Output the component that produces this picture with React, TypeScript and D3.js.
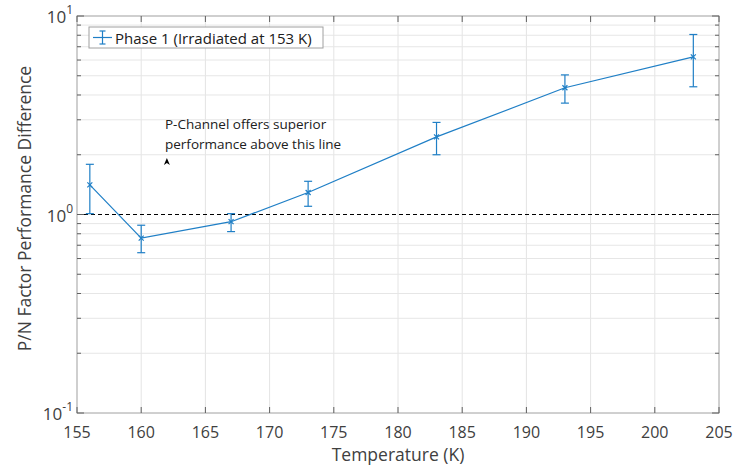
import React from "react";
import * as d3 from "d3";

// data
const temps = [156, 160, 167, 173, 183, 193, 203];
const ratio = [1.41, 0.76, 0.92, 1.29, 2.46, 4.35, 6.22];
const errLow = [1.01, 0.642, 0.82, 1.1, 2.0, 3.64, 4.4];
const errHigh = [1.79, 0.883, 1.01, 1.47, 2.91, 5.05, 8.07];

const xTicks = [155, 160, 165, 170, 175, 180, 185, 190, 195, 200, 205];
const yExps = [-1, 0, 1];
const yMinor = [0.2, 0.3, 0.4, 0.5, 0.6, 0.7, 0.8, 0.9, 2, 3, 4, 5, 6, 7, 8, 9];

const seriesName = "Phase 1 (Irradiated at 153 K)";
const noteLines = ["P-Channel offers superior", "performance above this line"];

const W = 743;
const H = 465;
const margin = { top: 16, right: 24, bottom: 52, left: 77 };
const FONT = "'Open Sans', 'Noto Sans', sans-serif";
const BLUE = "#1f7fc6";
const TXT = "#404040";

export default function App() {
  const x = d3
    .scaleLinear()
    .domain([155, 205])
    .range([margin.left, W - margin.right]);
  const y = d3
    .scaleLog()
    .domain([0.1, 10])
    .range([H - margin.bottom, margin.top]);

  const pts = temps.map((t, i) => ({ t, v: ratio[i], lo: errLow[i], hi: errHigh[i] }));
  const line = d3
    .line<{ t: number; v: number }>()
    .x(d => x(d.t))
    .y(d => y(d.v));

  const [x0, x1] = x.range();
  const [y0, y1] = y.range();
  const cap = 4;
  const mk = 2.5;

  return (
    <svg
      width={W}
      height={H}
      style={{ position: "absolute", left: 0, top: 0, background: "#fff" }}
      fontFamily={FONT}
    >
      {/* grid */}
      <g stroke="#e4e4e4" strokeWidth={1}>
        {xTicks.slice(1, -1).map(t => (
          <line key={"gx" + t} x1={x(t)} x2={x(t)} y1={y1} y2={y0} />
        ))}
        {yMinor.map(v => (
          <line key={"gm" + v} x1={x0} x2={x1} y1={y(v)} y2={y(v)} stroke="#e6e6e6" />
        ))}
      </g>

      {/* reference line at 1 */}
      <line
        x1={x0}
        x2={x1}
        y1={y(1)}
        y2={y(1)}
        stroke="#000"
        strokeWidth={1}
        strokeDasharray="4 3"
      />

      {/* axes box */}
      <rect x={x0} y={y1} width={x1 - x0} height={y0 - y1} fill="none" stroke="#a0a0a0" />
      <g stroke="#606060" strokeWidth={1}>
        {xTicks.map(t => (
          <g key={"tx" + t}>
            <line x1={x(t)} x2={x(t)} y1={y0} y2={y0 - 6} />
            <line x1={x(t)} x2={x(t)} y1={y1} y2={y1 + 6} />
          </g>
        ))}
        {yMinor.map(v => (
          <g key={"ty" + v}>
            <line x1={x0} x2={x0 + 4} y1={y(v)} y2={y(v)} />
            <line x1={x1} x2={x1 - 4} y1={y(v)} y2={y(v)} />
          </g>
        ))}
        {yExps.map(e => (
          <g key={"tye" + e}>
            <line x1={x0} x2={x0 + 7} y1={y(10 ** e)} y2={y(10 ** e)} />
            <line x1={x1} x2={x1 - 7} y1={y(10 ** e)} y2={y(10 ** e)} />
          </g>
        ))}
      </g>

      {/* tick labels */}
      <g fill={TXT} fontSize={16} textAnchor="middle">
        {xTicks.map(t => (
          <text key={"lx" + t} x={x(t)} y={y0 + 25}>
            {t}
          </text>
        ))}
      </g>
      <g fill={TXT} fontSize={17} textAnchor="end">
        {yExps.map(e => (
          <text key={"ly" + e} x={x0 - 4} y={y(10 ** e) + 7}>
            10
            <tspan fontSize={12} dy={-9}>
              {e}
            </tspan>
          </text>
        ))}
      </g>

      {/* axis titles */}
      <text x={(x0 + x1) / 2} y={H - 4} textAnchor="middle" fontSize={17.5} fill={TXT}>
        Temperature (K)
      </text>
      <text
        transform={`translate(31,${(y0 + y1) / 2 - 6}) rotate(-90)`}
        textAnchor="middle"
        fontSize={17.5}
        fill={TXT}
      >
        P/N Factor Performance Difference
      </text>

      {/* series */}
      <path d={line(pts) || ""} fill="none" stroke={BLUE} strokeWidth={1.2} />
      <g stroke={BLUE} strokeWidth={1.2}>
        {pts.map(p => (
          <g key={"e" + p.t}>
            <line x1={x(p.t)} x2={x(p.t)} y1={y(p.lo)} y2={y(p.hi)} />
            <line x1={x(p.t) - cap} x2={x(p.t) + cap} y1={y(p.lo)} y2={y(p.lo)} />
            <line x1={x(p.t) - cap} x2={x(p.t) + cap} y1={y(p.hi)} y2={y(p.hi)} />
            <path
              d={`M${x(p.t) - mk},${y(p.v) - mk}L${x(p.t) + mk},${y(p.v) + mk}M${x(p.t) - mk},${y(p.v) + mk}L${x(p.t) + mk},${y(p.v) - mk}`}
            />
          </g>
        ))}
      </g>

      {/* annotation */}
      <g fill="#202020" fontSize={13.5}>
        {noteLines.map((s, i) => (
          <text key={s} x={x(155) + 88} y={129 + i * 20}>
            {s}
          </text>
        ))}
      </g>
      <path d={`M${x(162)},158 l3,7 l-3,-2 l-3,2 z`} fill="#000" />

      {/* legend */}
      <g>
        <rect x={89} y={27} width={234} height={21} fill="#fff" stroke="#a0a0a0" />
        <g stroke={BLUE} strokeWidth={1.2}>
          <line x1={93} x2={112} y1={37.5} y2={37.5} />
          <line x1={102.5} x2={102.5} y1={31} y2={44} />
          <line x1={99.5} x2={105.5} y1={31} y2={31} />
          <line x1={99.5} x2={105.5} y1={44} y2={44} />
        </g>
        <text x={115} y={43.5} fontSize={15} fill="#202020">
          {seriesName}
        </text>
      </g>
    </svg>
  );
}
